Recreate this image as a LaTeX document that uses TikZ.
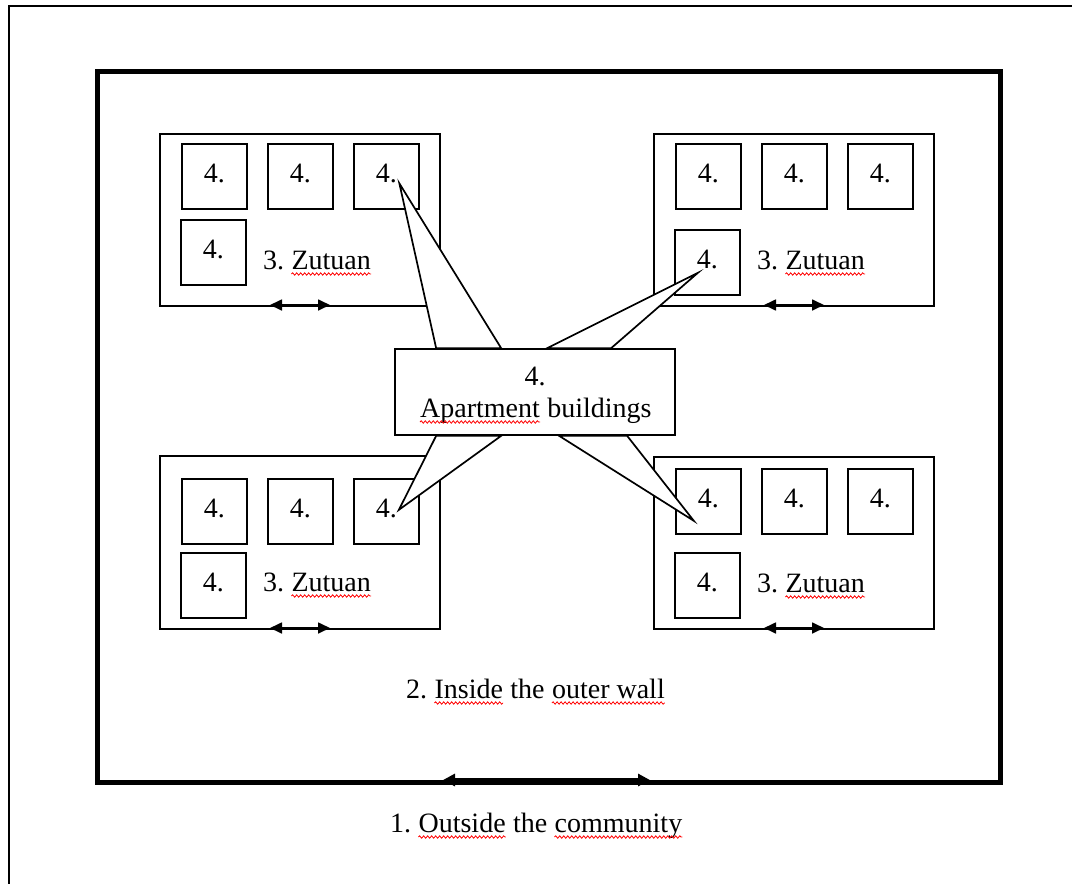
\documentclass[tikz,border=0pt]{standalone}
\usepackage{fontspec}
\setmainfont{Liberation Serif}
\usetikzlibrary{arrows.meta, positioning, calc, decorations.pathmorphing}
\tikzset{
	wallbox/.style={draw, line width=4.5pt, anchor=north west, inner sep=0pt},
	zutuanbox/.style={draw, line width=1.7pt, minimum width=280pt, anchor=north west, inner sep=0pt},
	flatbox/.style={draw, line width=1.7pt, minimum width=65pt, minimum height=65pt, anchor=north west, inner sep=0pt, text height=19pt, text depth=7pt},
	calloutbox/.style={draw, fill=white, line width=1.7pt, minimum width=280pt, minimum height=86pt, inner sep=0pt},
	spike/.style={draw, fill=white, line width=1.7pt, line join=miter},
	word/.style={inner sep=0pt, anchor=base west},
	spellmark/.style={red, line width=0.8pt, decorate, decoration={snake, amplitude=1.2pt, segment length=4pt}},
	zutuanarr/.style={{Triangle[length=12pt, width=11pt]}-{Triangle[length=12pt, width=11pt]}, line width=1.7pt},
	wallarr/.style={{Triangle[length=12pt, width=12pt]}-{Triangle[length=12pt, width=12pt]}, line width=4.5pt},
}
\begin{document}
\begin{tikzpicture}[x=1pt, y=-1pt, font=\fontsize{28pt}{32pt}\selectfont]
	\useasboundingbox (0,0) rectangle (1072,884);
	% page frame
	\draw[line width=2pt] (1072,6) -- (9,6) -- (9,884);
	% outer wall
	\node[wallbox, minimum width=903pt, minimum height=711pt] (wall) at (95,69) {};
	\coordinate (wl) at (443,780);
	\coordinate (wr) at (650,780);
	\draw[wallarr] (wl) -- (wr);
	% the four zutuan
	\foreach \z/\bx/\by/\ra/\rb/\ha in {tl/159/133/10/86/172, tr/653/133/10/96/172, bl/159/455/23/97/173, br/653/456/12/96/172}{
		\node[zutuanbox, minimum height=\ha pt] (\z) at (\bx,\by) {};
		\foreach \k/\dx in {a/22, b/108, c/194}
			\node[flatbox] (\z-\k) at (\bx+\dx,\by+\ra) {4.};
		\node[flatbox] (\z-d) at (\bx+21,\by+\rb) {4.};
		\node[word] (\z-num) at (\bx+104,\by+136) {3.};
		\node[word] (\z-name) at ($(\z-num.base east)+(7,0)$) {Zutuan};
		\draw[spellmark] ($(\z-name.base west)+(0,5)$) -- ($(\z-name.base east)+(0,5)$);
		\coordinate (\z-l) at (\bx+111,\by+\ha);
		\coordinate (\z-r) at (\bx+171,\by+\ha);
		\draw[zutuanarr] (\z-l) -- (\z-r);
	}
	% callout
	\node[calloutbox] (apt) at (535,392) {};
	\node[anchor=base] (apt-num) at (535,385) {4.};
	\node[word] (apt-a) at (420,417) {Apartment};
	\node[word] (apt-b) at ($(apt-a.base east)+(7,0)$) {buildings};
	\draw[spellmark] ($(apt-a.base west)+(0,5)$) -- ($(apt-a.base east)+(0,5)$);
	\coordinate (tip-tl) at ($(tl-c.center)+(13,7)$);
	\coordinate (tip-tr) at ($(tr-d.center)+(-9.5,10.5)$);
	\coordinate (tip-bl) at ($(bl-c.center)+(12.5,-1.5)$);
	\coordinate (tip-br) at ($(br-a.center)+(-14.5,19.5)$);
	\filldraw[spike] ($(apt.north west)+(42,0)$) -- (tip-tl) -- ($(apt.north west)+(107,0)$) -- cycle;
	\filldraw[spike] ($(apt.north west)+(153,0)$) -- (tip-tr) -- ($(apt.north west)+(217,0)$) -- cycle;
	\filldraw[spike] ($(apt.south west)+(42,0)$) -- (tip-bl) -- ($(apt.south west)+(107,0)$) -- cycle;
	\filldraw[spike] ($(apt.south west)+(165,0)$) -- (tip-br) -- ($(apt.south west)+(233,0)$) -- cycle;
	% inside the wall
	\node[word] (in-a) at (406,698) {2.};
	\node[word] (in-b) at ($(in-a.base east)+(7,0)$) {Inside};
	\node[word] (in-c) at ($(in-b.base east)+(7,0)$) {the};
	\node[word] (in-d) at ($(in-c.base east)+(7,0)$) {outer wall};
	\draw[spellmark] ($(in-b.base west)+(0,5)$) -- ($(in-b.base east)+(0,5)$);
	\draw[spellmark] ($(in-d.base west)+(0,5)$) -- ($(in-d.base east)+(0,5)$);
	% outside
	\node[word] (out-a) at (390,832) {1.};
	\node[word] (out-b) at ($(out-a.base east)+(7,0)$) {Outside};
	\node[word] (out-c) at ($(out-b.base east)+(7,0)$) {the};
	\node[word] (out-d) at ($(out-c.base east)+(7,0)$) {community};
	\draw[spellmark] ($(out-b.base west)+(0,5)$) -- ($(out-b.base east)+(0,5)$);
	\draw[spellmark] ($(out-d.base west)+(0,5)$) -- ($(out-d.base east)+(0,5)$);
\end{tikzpicture}
\end{document}
